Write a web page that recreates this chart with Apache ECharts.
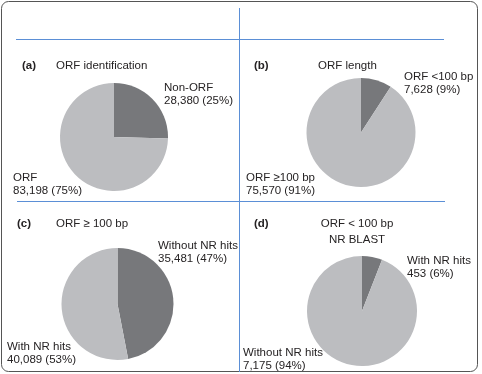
<!DOCTYPE html>
<html>
<head>
<meta charset="utf-8">
<script src="https://cdn.jsdelivr.net/npm/echarts@6/dist/echarts.min.js"></script>
<style>
  html, body { margin: 0; padding: 0; background: #fff; }
  #main { width: 482px; height: 374px; }
</style>
</head>
<body>
<div id="main"></div>
<script>
var myChart = echarts.init(document.getElementById('main'));

// panel tags and titles
const panelTags = ['(a)', '(b)', '(c)', '(d)'];
const panelTitles = ['ORF identification', 'ORF length', 'ORF \u2265 100 bp', 'ORF < 100 bp\nNR BLAST'];

// slice names and counts, dark slice first
const namesA = ['Non-ORF', 'ORF'];
const valuesA = [28380, 83198];
const namesB = ['ORF <100 bp', 'ORF \u2265100 bp'];
const valuesB = [7628, 75570];
const namesC = ['Without NR hits', 'With NR hits'];
const valuesC = [35481, 40089];
const namesD = ['With NR hits', 'Without NR hits'];
const valuesD = [453, 7175];

const DARK = '#77787b';
const LIGHT = '#bcbdc0';
const TEXT = '#262324';
const BLUE = '#5b8fd6';
const FONT = '"Liberation Sans", Arial, sans-serif';
const FS = 11.5;

// layout (positions only)
const panels = [
    {center: [114, 137], r: 54, labels: [[164, 94], [13, 184]], tag: [22, 66], title: [56, 66, 'left']},
    {center: [361, 132.5], r: 54.5, labels: [[404, 83], [246, 184]], tag: [254, 66], title: [318, 66, 'left']},
    {center: [117.5, 304], r: 56, labels: [[158, 252], [7, 353]], tag: [17, 224], title: [56, 224, 'left']},
    {center: [362, 311], r: 55, labels: [[407, 267], [243, 359]], tag: [254, 224], title: [357, 232, 'center']}
];
const seriesData = [[namesA, valuesA], [namesB, valuesB], [namesC, valuesC], [namesD, valuesD]];

function fmt(p) {
    return p.name + '\n' + p.value.toLocaleString('en-US') + ' (' + Math.round(p.percent) + '%)';
}

let series = seriesData.map(function (d, k) {
    let pan = panels[k];
    return {
        type: 'pie',
        center: pan.center,
        radius: pan.r,
        startAngle: 90,
        clockwise: true,
        silent: true,
        avoidLabelOverlap: false,
        data: d[0].map(function (n, i) {
            return {name: n, value: d[1][i], itemStyle: {color: i === 0 ? DARK : LIGHT}};
        }),
        itemStyle: {borderWidth: 0},
        label: {
            show: true,
            position: 'outside',
            formatter: fmt,
            color: TEXT,
            fontFamily: FONT,
            fontSize: FS,
            lineHeight: 13,
            align: 'left'
        },
        labelLine: {show: false},
        labelLayout: function (p) {
            let pos = pan.labels[p.dataIndex];
            return {x: pos[0], y: pos[1], align: 'left', verticalAlign: 'middle'};
        }
    };
});

let graphics = [
    {type: 'rect', shape: {x: 1.5, y: 1.5, width: 476, height: 370, r: 7},
        style: {fill: null, stroke: '#555', lineWidth: 1}},
    {type: 'rect', shape: {x: 16, y: 39, width: 428, height: 1}, style: {fill: BLUE}},
    {type: 'rect', shape: {x: 17, y: 201, width: 428, height: 1}, style: {fill: BLUE}},
    {type: 'rect', shape: {x: 239, y: 8, width: 1, height: 364}, style: {fill: BLUE}}
];
panels.forEach(function (pan, k) {
    graphics.push({type: 'text', x: pan.tag[0], y: pan.tag[1],
        style: {text: panelTags[k], fill: TEXT, font: 'bold ' + FS + 'px ' + FONT, verticalAlign: 'middle', align: 'left'}});
    graphics.push({type: 'text', x: pan.title[0], y: pan.title[1],
        style: {text: panelTitles[k], fill: TEXT, font: FS + 'px ' + FONT, lineHeight: 16,
            verticalAlign: 'middle', align: pan.title[2]}});
});

let option = {
    animation: false,
    backgroundColor: '#fff',
    series: series,
    graphic: graphics
};

myChart.setOption(option);
</script>
</body>
</html>
